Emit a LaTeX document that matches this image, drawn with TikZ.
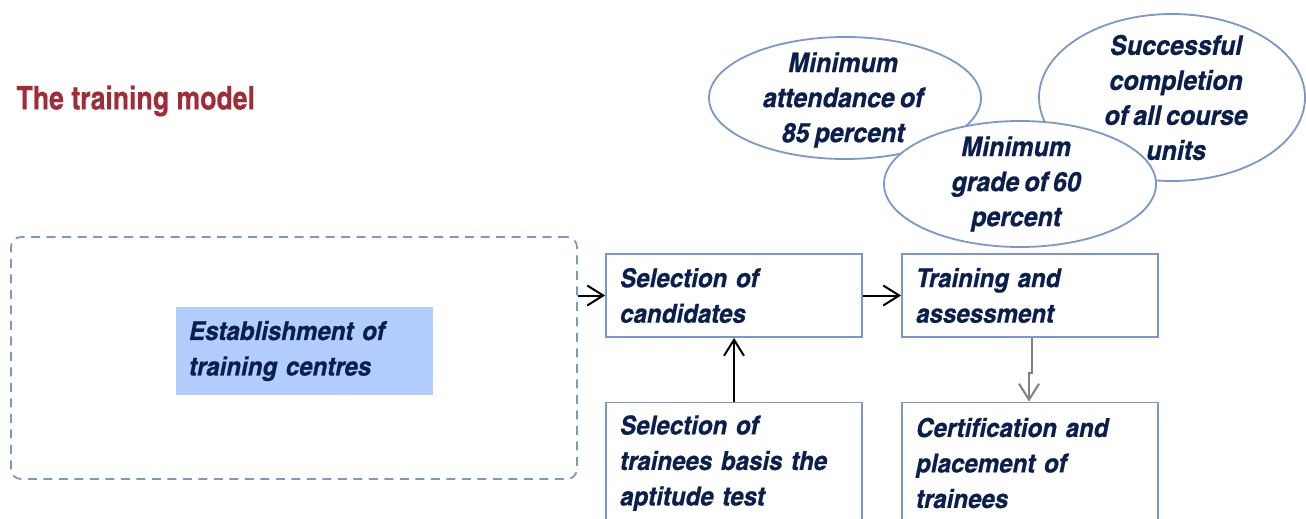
\documentclass[tikz,border=0pt]{standalone}
\usepackage{fontspec}
\setmainfont{texgyreheroscn}[Extension=.otf,UprightFont=*-regular,BoldFont=*-bold,ItalicFont=*-italic,BoldItalicFont=*-bolditalic,FakeStretch=1.13,FakeBold=0.6,WordSpace=0.72]
\newfontfamily\titlefont{texgyreheroscn-bold}[Extension=.otf,FakeBold=0.4]
\usepackage{xcolor}
\usetikzlibrary{arrows.meta,shapes,calc,positioning}
\definecolor{navytext}{HTML}{0B1F4F}
\definecolor{boxline}{HTML}{7C97CB}
\definecolor{lightfill}{HTML}{B4CDFF}
\definecolor{titlered}{HTML}{A02C38}
\tikzset{
	stagebox/.style={draw=boxline, line width=1.8pt, text width=228pt, inner xsep=14pt, inner ysep=0pt, align=left, text=navytext, font=\fontsize{26}{35.5}\selectfont\bfseries\itshape},
	goal/.style={draw=boxline, fill=white, line width=1.8pt, ellipse, inner sep=0pt},
	goaltext/.style={align=center, text=navytext, font=\fontsize{27}{35}\selectfont\bfseries\itshape},
	flow/.style={line width=2pt, -{Straight Barb[length=16pt,width=20pt]}}
}
\begin{document}
\begin{tikzpicture}[x=1pt,y=-1pt]
			\useasboundingbox (0,0) rectangle (1306,519);
			\node [anchor=west, text=titlered, font=\fontsize{32.5}{38}\titlefont] (title) at (13,101) {The training model};
			% establishment block
			\node [draw=boxline, line width=1.8pt, dash pattern=on 9pt off 6.5pt, rounded corners=10pt, minimum width=566pt, minimum height=242pt, inner sep=0pt] (frame) at (294,358) {};
			\node [stagebox, draw=none, fill=lightfill, minimum height=88pt, text width=231pt, inner xsep=13pt] (centres) at (304.5,351) {Establishment of\\training centres};
			% stages
			\node [stagebox, minimum height=83pt] (candidates) at (734,295.5) {Selection of\\candidates};
			\node [stagebox, minimum height=83pt] (training) at (1030,295.5) {Training and\\assessment};
			\node [stagebox, minimum height=121pt] (aptitude) at (734,463) {Selection of\\trainees basis the\\aptitude test};
			\node [stagebox, minimum height=121pt] (placement) at (1030,463) {Certification and\\placement of\\trainees};
			% criteria
			\node [goal, minimum width=272pt, minimum height=122pt] (attendance) at (845,98) {};
			\node [goal, minimum width=266pt, minimum height=167pt] (completion) at (1172,97.5) {};
			\node [goal, minimum width=272pt, minimum height=126pt] (grade) at (1020,184) {};
			\node [goaltext] (attendancetxt) at ($(attendance.center)+(-2,2)$) {Minimum\\attendance of\\85 percent};
			\node [goaltext] (completiontxt) at ($(completion.center)+(4,0)$) {Successful\\completion\\of all course\\units};
			\node [goaltext] (gradetxt) at ($(grade.center)+(-4,0)$) {Minimum\\grade of 60\\percent};
			% connectors
			\draw [flow] (frame.east |- candidates.west) -- (candidates.west);
			\draw [flow] (candidates.east) -- (training.west);
			\draw [flow] (aptitude.north) -- (candidates.south);
			\draw [flow, draw=gray] ([xshift=1.5pt]training.south) -- ++(0,35) -| ([xshift=-1pt]placement.north);
\end{tikzpicture}
\end{document}
